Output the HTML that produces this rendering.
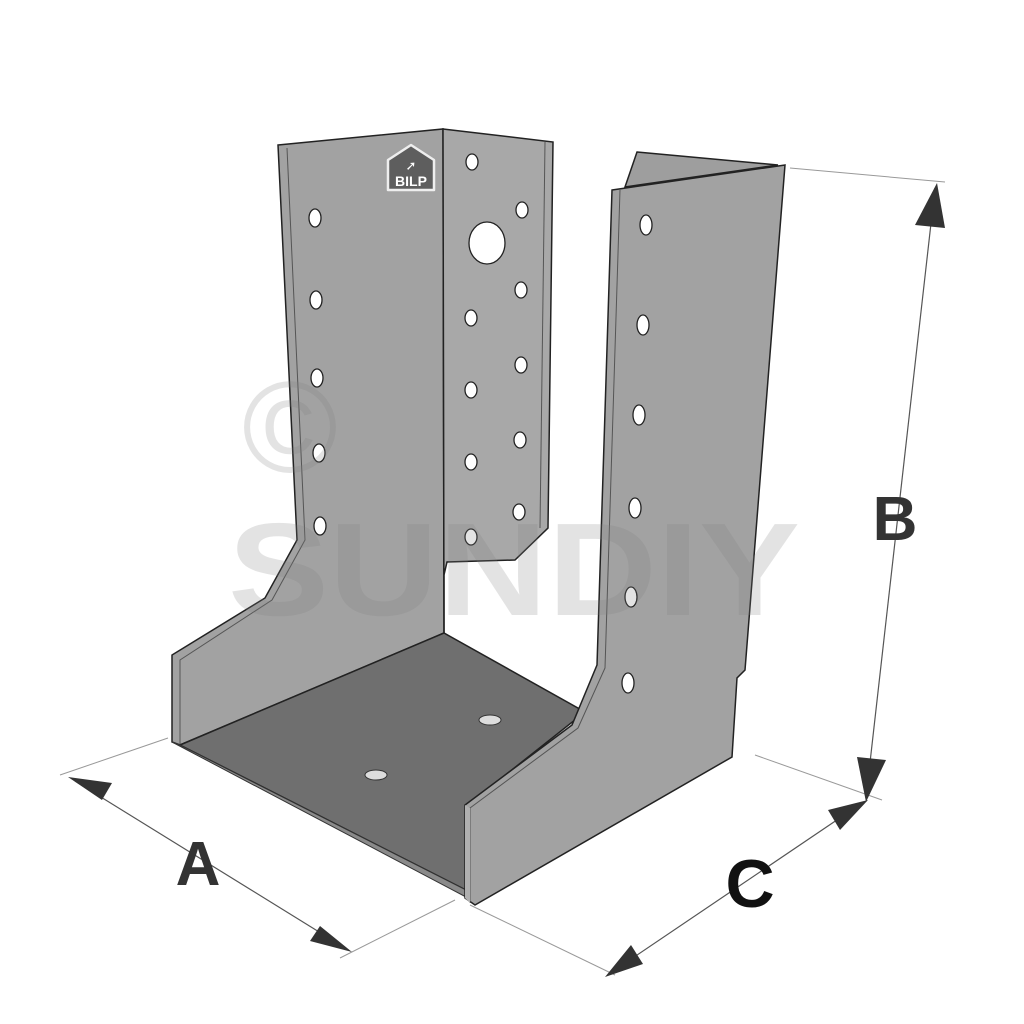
<!DOCTYPE html>
<html><head><meta charset="utf-8"><style>
html,body{margin:0;padding:0;background:#fff;}
svg{display:block;}
</style></head><body>
<svg width="1024" height="1024" viewBox="0 0 1024 1024" xmlns="http://www.w3.org/2000/svg">
<g stroke="#999" stroke-width="1" fill="none">
<line x1="60" y1="775" x2="168" y2="738"/>
<line x1="340" y1="958" x2="455" y2="900"/>
<line x1="790" y1="168" x2="945" y2="182"/>
<line x1="755" y1="755" x2="882" y2="800"/>
<line x1="470" y1="905" x2="615" y2="975"/>
</g>
<g stroke="#555" stroke-width="1.2">
<line x1="75" y1="781" x2="345" y2="948"/>
<line x1="935" y1="188" x2="866" y2="798"/>
<line x1="862" y1="803" x2="612" y2="972"/>
</g>
<g fill="#333">
<polygon points="68,777 112,783 102,800"/>
<polygon points="352,952 310,941 320,926"/>
<polygon points="937,183 945,228 915,225"/>
<polygon points="866,802 857,757 886,760"/>
<polygon points="868,800 840,830 828,810"/>
<polygon points="605,977 631,945 643,964"/>
</g>
<polygon points="278,145 443,129 444,633 180,745 172,742 172,655 265,598 297,540" fill="#a2a2a2" stroke="#222" stroke-width="1.5"/>
<polyline points="287,148 305,540 272,600 180,660 180,745" fill="none" stroke="#555" stroke-width="1"/>
<polygon points="443,129 553,142 548,528 515,560 447,562 444,575 444,633" fill="#a8a8a8" stroke="#222" stroke-width="1.5"/>
<line x1="545" y1="142" x2="540" y2="528" stroke="#555" stroke-width="1"/>
<polygon points="180,745 444,633 585,712 470,803 466,890" fill="#6f6f6f" stroke="#222" stroke-width="1.5"/>
<polygon points="172,742 180,745 466,890 466,897" fill="#8a8a8a" stroke="#333" stroke-width="1"/>
<polygon points="637,152 778,165 625,187" fill="#9e9e9e" stroke="#222" stroke-width="1.5"/>
<polygon points="612,190 785,165 745,670 737,678 732,757 475,905 465,898 465,805 572,725 597,665" fill="#a2a2a2" stroke="#222" stroke-width="1.5"/>
<polyline points="620,190 605,668 578,728 470,808 470,903" fill="none" stroke="#555" stroke-width="1"/>
<polygon points="465,805 470,808 470,903 465,898" fill="#b0b0b0"/>
<g fill="#fff" stroke="#222" stroke-width="1.3">
<ellipse cx="315" cy="218" rx="6" ry="9"/>
<ellipse cx="316" cy="300" rx="6" ry="9"/>
<ellipse cx="317" cy="378" rx="6" ry="9"/>
<ellipse cx="319" cy="453" rx="6" ry="9"/>
<ellipse cx="320" cy="526" rx="6" ry="9"/>
<ellipse cx="472" cy="162" rx="6" ry="8"/>
<ellipse cx="471" cy="318" rx="6" ry="8"/>
<ellipse cx="471" cy="390" rx="6" ry="8"/>
<ellipse cx="471" cy="462" rx="6" ry="8"/>
<ellipse cx="471" cy="537" rx="6" ry="8"/>
<ellipse cx="522" cy="210" rx="6" ry="8"/>
<ellipse cx="521" cy="290" rx="6" ry="8"/>
<ellipse cx="521" cy="365" rx="6" ry="8"/>
<ellipse cx="520" cy="440" rx="6" ry="8"/>
<ellipse cx="519" cy="512" rx="6" ry="8"/>
<ellipse cx="487" cy="243" rx="18" ry="21"/>
<ellipse cx="646" cy="225" rx="6" ry="10"/>
<ellipse cx="643" cy="325" rx="6" ry="10"/>
<ellipse cx="639" cy="415" rx="6" ry="10"/>
<ellipse cx="635" cy="508" rx="6" ry="10"/>
<ellipse cx="631" cy="597" rx="6" ry="10"/>
<ellipse cx="628" cy="683" rx="6" ry="10"/>
</g>
<g fill="#ddd" stroke="#333" stroke-width="1">
<ellipse cx="376" cy="775" rx="11" ry="5"/>
<ellipse cx="490" cy="720" rx="11" ry="5"/>
</g>
<polygon points="388,160 411,145 434,160 434,190 388,190" fill="#5e5e5e" stroke="#eee" stroke-width="2.5" stroke-linejoin="round"/>
<text x="411" y="186" font-family="Liberation Sans, sans-serif" font-weight="bold" font-size="14" fill="#fff" text-anchor="middle">BILP</text>
<text x="411" y="170" font-family="DejaVu Sans, sans-serif" font-weight="bold" font-size="13" fill="#fff" text-anchor="middle">➚</text>
<text x="290" y="472" font-family="Liberation Sans, sans-serif" font-size="130" fill="#808080" fill-opacity="0.22" text-anchor="middle">©</text>
<text x="228" y="615" font-family="Liberation Sans, sans-serif" font-weight="bold" font-size="132" fill="#808080" fill-opacity="0.22" textLength="572" lengthAdjust="spacingAndGlyphs">SUNDIY</text>
<text x="198" y="885" font-family="Liberation Sans, sans-serif" font-weight="bold" font-size="62" fill="#333" text-anchor="middle">A</text>
<text x="895" y="540" font-family="Liberation Sans, sans-serif" font-weight="bold" font-size="62" fill="#333" text-anchor="middle">B</text>
<text x="750" y="907" font-family="Liberation Sans, sans-serif" font-weight="bold" font-size="68" fill="#111" text-anchor="middle">C</text>
</svg>
</body></html>
